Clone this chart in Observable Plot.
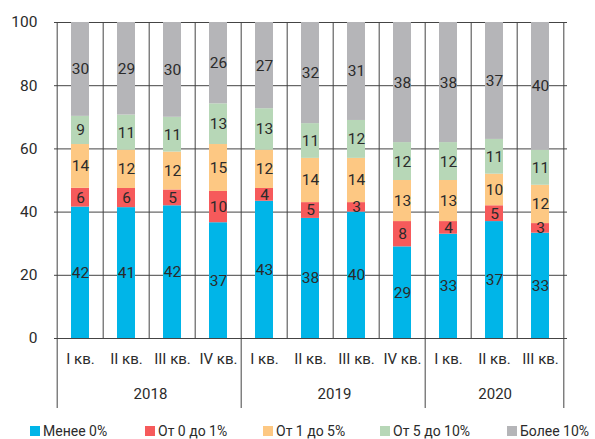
<!DOCTYPE html>
<html><head><meta charset="utf-8">
<script src="https://cdn.jsdelivr.net/npm/d3@7"></script>
<script src="https://cdn.jsdelivr.net/npm/@observablehq/plot@0.6"></script>
<style>
body{margin:0;background:#fff;font-family:Roboto,"Noto Sans",sans-serif;}
#wrap{position:relative;width:595px;height:439px;overflow:hidden;}
#legend{position:absolute;left:0;top:423px;width:595px;height:16px;font-size:14px;color:#2b2b2b;}
.item{position:absolute;top:0;height:16px;line-height:16px;white-space:nowrap;}
.sw{display:inline-block;width:10px;height:10px;margin-right:3px;vertical-align:-0px;}
</style></head>
<body><div id="wrap"><div id="chart"></div><div id="legend"></div></div>
<script>
const quarterLabels = ["I кв.","II кв.","III кв.","IV кв.","I кв.","II кв.","III кв.","IV кв.","I кв.","II кв.","III кв."];
const yearOfBar = ["2018","2018","2018","2018","2019","2019","2019","2019","2020","2020","2020"];
const years = ["2018","2019","2020"];
const categories = ["Менее 0%","От 0 до 1%","От 1 до 5%","От 5 до 10%","Более 10%"];
const below0   = [42,41,42,37,43,38,40,29,33,37,33];
const from0to1 = [6,6,5,10,4,5,3,8,4,5,3];
const from1to5 = [14,12,12,15,12,14,14,13,13,10,12];
const from5to10= [9,11,11,13,13,11,12,12,12,11,11];
const above10  = [30,29,30,26,27,32,31,38,38,37,40];
const yTicks = [0,20,40,60,80,100];
const colors = ["#00b5e8","#f65a5b","#fdc883","#b7d7b7","#b5b5b8"];

const series = [below0, from0to1, from1to5, from5to10, above10];
const keys = quarterLabels.map((q,i)=>yearOfBar[i]+" "+q);
const data = [];
categories.forEach((c,ci)=>series[ci].forEach((v,i)=>data.push({key:keys[i], cat:c, value:v})));

const W=595, H=418, mL=54, mR=28, mT=22, mB=80;
const step=(W-mL-mR)/keys.length;
const yearStarts = keys.filter((k,i)=>i===0 || yearOfBar[i]!==yearOfBar[i-1]);
const innerStarts = keys.filter((k,i)=>!(i===0 || yearOfBar[i]!==yearOfBar[i-1]));
const yearLabelData = years.map(y=>{const idx=yearOfBar.map((v,i)=>v===y?i:-1).filter(i=>i>=0);return {year:y,key:keys[idx[0]],n:idx.length};});
const lineColor="#444";
const txt="#2b2b2b";

const chart = Plot.plot({
  width:W, height:H, marginLeft:mL, marginRight:mR, marginTop:mT, marginBottom:mB,
  style:{fontSize:"15.5px", fontFamily:"Roboto, 'Noto Sans', sans-serif", color:txt, background:"#fff"},
  x:{domain:keys, paddingInner:0.6, paddingOuter:0.3, axis:null},
  y:{domain:[0,1], ticks:yTicks.map(t=>t/100), tickFormat:d=>Math.round(d*100), tickSize:0, tickPadding:17, label:null},
  color:{domain:categories, range:colors},
  marks:[
    Plot.ruleY(yTicks.map(t=>t/100), {stroke:lineColor}),
    Plot.ruleX(innerStarts, {x:d=>d, dx:-step/2, stroke:lineColor}),
    Plot.ruleX(yearStarts, {x:d=>d, dx:-step/2, stroke:lineColor, insetBottom:-70}),
    Plot.ruleX([keys[keys.length-1]], {x:d=>d, dx:step/2, stroke:lineColor, insetBottom:-70}),
    Plot.barY(data, Plot.stackY({offset:"normalize", x:"key", y:"value", fill:"cat"})),
    Plot.text(data, Plot.stackY({offset:"normalize", x:"key", y:"value", z:"cat", text:"value", fill:txt, fontSize:15.5})),
    Plot.text(keys, {x:d=>d, text:(d,i)=>quarterLabels[i], frameAnchor:"bottom", dy:25, fill:txt, fontSize:15}),
    ...yearLabelData.map(d=>Plot.text([d], {x:"key", text:"year", frameAnchor:"bottom", dy:60, dx:(d.n-1)/2*step, fill:txt, fontSize:15}))
  ]
});
document.getElementById("chart").appendChild(chart);

const legendLeft=[30,145,263,380,507];
const lg=document.getElementById("legend");
categories.forEach((c,i)=>{
  const it=document.createElement("div");it.className="item";it.style.left=legendLeft[i]+"px";
  it.innerHTML=`<span class="sw" style="background:${colors[i]}"></span>${c}`;
  lg.appendChild(it);
});
</script></body></html>
